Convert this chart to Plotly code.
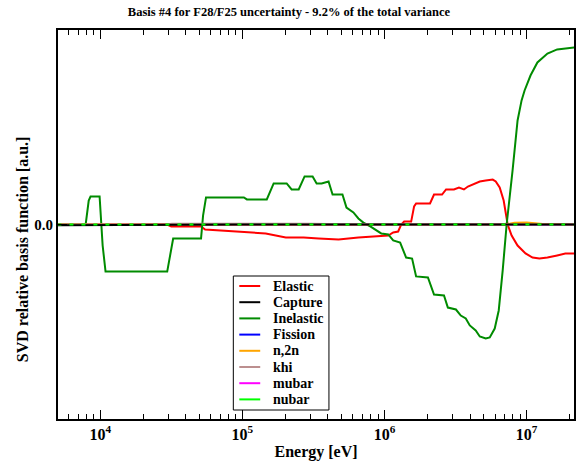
import plotly.graph_objects as go

# ---- data ----
inel_E = [5.0e3, 7.9e3, 8.3e3, 8.55e3, 9.9e3, 1.04e4, 1.09e4, 2.96e4, 3.26e4, 5.12e4,
          5.29e4, 5.55e4, 1.025e5, 1.076e5, 1.485e5, 1.66e5, 2.05e5, 2.22e5, 2.49e5, 2.74e5,
          3.12e5, 3.33e5, 3.61e5, 4.04e5, 4.31e5, 5.06e5, 5.40e5, 6.04e5, 6.55e5, 7.10e5,
          7.94e5, 8.75e5, 9.48e5, 1.062e6, 1.151e6, 1.288e6, 1.419e6, 1.563e6, 1.668e6, 2.02e6,
          2.23e6, 2.62e6, 2.79e6, 3.18e6, 3.44e6, 3.73e6, 3.98e6, 4.38e6, 4.68e6, 5.15e6,
          5.50e6, 5.96e6, 6.36e6, 6.78e6, 7.23e6, 7.96e6, 8.63e6, 9.21e6, 9.67e6, 1.064e7,
          1.19e7, 1.40e7, 1.64e7, 2.16e7]
inel_v = [0.0, 0.0, 0.123, 0.144, 0.144, -0.108, -0.242, -0.242, -0.072, -0.072,
          0.046, 0.139, 0.139, 0.129, 0.129, 0.211, 0.211, 0.180, 0.180, 0.247,
          0.247, 0.211, 0.211, 0.221, 0.154, 0.154, 0.087, 0.062, 0.031, 0.010,
          -0.010, -0.031, -0.046, -0.051, -0.082, -0.093, -0.170, -0.175, -0.267, -0.272,
          -0.360, -0.365, -0.427, -0.437, -0.468, -0.483, -0.519, -0.545, -0.576, -0.586,
          -0.581, -0.535, -0.442, -0.237, 0.0, 0.278, 0.535, 0.638, 0.689, 0.766,
          0.833, 0.879, 0.900, 0.910]

elas_E = [5.0e3, 2.96e4, 3.16e4, 5.12e4, 5.47e4, 9.44e4, 1.46e5, 2.02e5, 2.70e5, 3.44e5,
          4.75e5, 6.55e5, 9.04e5, 1.062e6, 1.151e6, 1.247e6, 1.31e6, 1.375e6, 1.54e6, 1.615e6,
          1.668e6, 2.09e6, 2.23e6, 2.54e6, 2.71e6, 3.08e6, 3.34e6, 3.62e6, 3.86e6, 4.25e6,
          4.68e6, 5.15e6, 5.77e6, 6.06e6, 6.46e6, 6.89e6, 7.35e6, 7.84e6, 8.63e6, 9.82e6,
          1.10e7, 1.23e7, 1.40e7, 1.64e7, 1.87e7, 2.16e7]
elas_v = [0.0, 0.0, -0.010, -0.010, -0.026, -0.036, -0.046, -0.067, -0.067, -0.072,
          -0.077, -0.067, -0.062, -0.057, -0.041, -0.036, 0.0, 0.015, 0.015, 0.093,
          0.108, 0.108, 0.154, 0.154, 0.180, 0.180, 0.190, 0.180, 0.195, 0.206,
          0.221, 0.226, 0.231, 0.221, 0.190, 0.123, 0.0, -0.057, -0.108, -0.149,
          -0.170, -0.175, -0.170, -0.159, -0.149, -0.149]

capt_E = [5.0e3, 1.0e4, 3.0e4, 1.0e5, 1.0e6, 5.0e6, 2.16e7]
capt_v = [-0.004, -0.003, -0.001, 0.0, 0.0, 0.001, 0.0]

fiss_E = [5.0e3, 2.16e7]
fiss_v = [0.0, 0.0]

n2n_E = [5.0e3, 7.0e6, 7.6e6, 8.2e6, 1.0e7, 1.15e7, 1.3e7, 2.16e7]
n2n_v = [0.0, 0.0, 0.004, 0.009, 0.010, 0.006, 0.002, 0.0]

khi_E = [5.0e3, 2.9e4, 3.2e4, 1.0e5, 3.0e5, 4.0e5, 1.0e6, 3.0e6, 2.16e7]
khi_v = [0.0, 0.0, 0.004, 0.005, 0.004, 0.002, 0.002, 0.001, 0.0]

mubar_E = [5.0e3, 2.16e7]
mubar_v = [0.0, 0.0]

nubar_E = [5.0e3, 2.16e7]
nubar_v = [0.0, 0.0]

major_ticks = [1e4, 1e5, 1e6, 1e7]
major_text = ["10<sup>4</sup>", "10<sup>5</sup>", "10<sup>6</sup>", "10<sup>7</sup>"]
minor_ticks = [m * 10 ** d for d in range(3, 8) for m in range(2, 10)]

title_text = "Basis #4 for F28/F25 uncertainty - 9.2% of the total variance"
ylabel_text = "SVD relative basis function [a.u.]"
xlabel_text = "Energy [eV]"

# ---- figure ----
FONT = "Liberation Serif"
W, H = 578, 464
ML, MR, MT, MB = 58, 2, 30, 45
PW, PH = W - ML - MR, H - MT - MB


def px(xp):
    return (xp - ML) / PW


def py(yp):
    return (H - MB - yp) / PH


# legend order / styles
series = [
    ("Elastic", elas_E, elas_v, "#ff0000", "solid"),
    ("Capture", capt_E, capt_v, "#000000", "solid"),
    ("Inelastic", inel_E, inel_v, "#008b00", "solid"),
    ("Fission", fiss_E, fiss_v, "#0000ff", "solid"),
    ("n,2n", n2n_E, n2n_v, "#ffa500", "solid"),
    ("khi", khi_E, khi_v, "#bc8f8f", "solid"),
    ("mubar", mubar_E, mubar_v, "#ff00ff", "solid"),
    ("nubar", nubar_E, nubar_v, "#00ff00", "4px,8px"),
]
draw_order = ["Fission", "mubar", "Elastic", "Inelastic", "n,2n", "khi", "Capture", "nubar"]
by_name = {s[0]: s for s in series}

fig = go.Figure()
for nm in draw_order:
    name, xs, ys, col, dash = by_name[nm]
    fig.add_trace(go.Scatter(x=xs, y=ys, mode="lines", name=name, showlegend=False,
                             line=dict(color=col, width=2, dash=dash)))

fig.update_layout(
    width=W, height=H,
    margin=dict(l=ML, r=MR, t=MT, b=MB),
    paper_bgcolor="white", plot_bgcolor="white",
    font=dict(family=FONT, size=15, color="black"),
    title=dict(text="<b>" + title_text + "</b>", x=0.5, xanchor="center",
               y=1 - 12 / H, yanchor="middle",
               font=dict(family=FONT, size=12.5, color="black")),
    showlegend=False,
)
fig.update_xaxes(
    type="log", range=[3.703, 7.333],
    showline=True, linecolor="black", linewidth=2, mirror="ticks",
    ticks="inside", ticklen=9, tickwidth=1, tickcolor="black",
    tickvals=major_ticks, ticktext=major_text,
    tickfont=dict(family=FONT, size=16, color="black", weight="bold"),
    minor=dict(tickvals=minor_ticks, ticks="inside", ticklen=5, tickwidth=1,
               tickcolor="black", showgrid=False),
    showgrid=False, zeroline=False,
    title=dict(text="<b>" + xlabel_text + "</b>", standoff=4,
               font=dict(family=FONT, size=16, color="black")),
)
fig.update_yaxes(
    range=[-1.0, 1.0],
    showline=True, linecolor="black", linewidth=2, mirror="ticks",
    ticks="inside", ticklen=9, tickwidth=1, tickcolor="black",
    tickvals=[0.0], ticktext=["0.0"],
    tickfont=dict(family=FONT, size=15, color="black", weight="bold"),
    showgrid=False, zeroline=False,
)
fig.add_annotation(text="<b>" + ylabel_text + "</b>", textangle=-90,
                   xref="paper", yref="paper", x=px(22), y=py(249),
                   xanchor="center", yanchor="middle", showarrow=False,
                   font=dict(family=FONT, size=16, color="black"))

# legend box (drawn by hand to match the compact row spacing)
fig.add_shape(type="rect", xref="paper", yref="paper",
              x0=px(234), x1=px(330), y0=py(410), y1=py(276),
              line=dict(color="black", width=1), fillcolor="white", layer="above")
for i, (name, xs, ys, col, dash) in enumerate(series):
    yrow = 286 + 16.2 * i
    fig.add_shape(type="line", xref="paper", yref="paper",
                  x0=px(240), x1=px(261), y0=py(yrow), y1=py(yrow),
                  line=dict(color=col, width=2), layer="above")
    fig.add_annotation(text="<b>" + name + "</b>", xref="paper", yref="paper",
                       x=px(272), y=py(yrow), xanchor="left", yanchor="middle",
                       showarrow=False,
                       font=dict(family=FONT, size=14, color="black"))

fig.write_html("out.html")
